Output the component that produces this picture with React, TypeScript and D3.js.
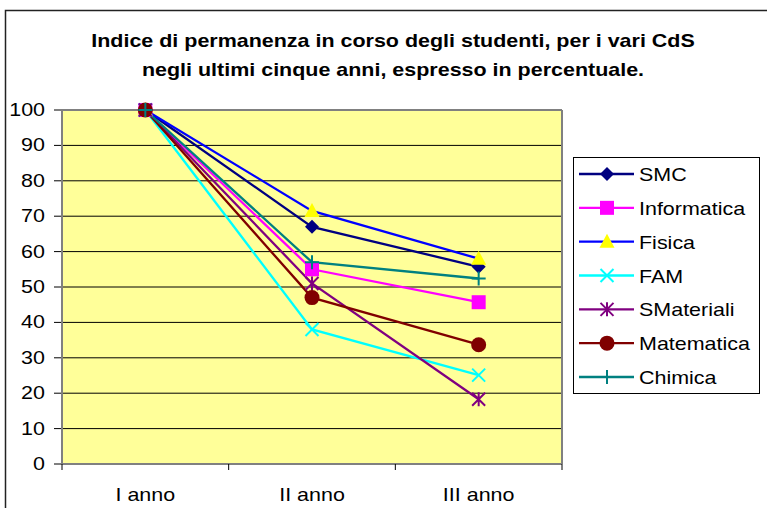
import React from "react";
import * as d3 from "d3";

const categories = ["I anno", "II anno", "III anno"];
const seriesNames = ["SMC", "Informatica", "Fisica", "FAM", "SMateriali", "Matematica", "Chimica"];
const smc = [100, 67, 55.7];
const informatica = [100, 55, 45.7];
const fisica = [100, 71.5, 58];
const fam = [100, 38, 25.1];
const smateriali = [100, 51, 18.3];
const matematica = [100, 47, 33.7];
const chimica = [100, 57, 52.4];
const yTicks = [0, 10, 20, 30, 40, 50, 60, 70, 80, 90, 100];
const titleLines = [
  "Indice di permanenza in corso degli studenti, per i vari CdS",
  "negli ultimi cinque anni, espresso in percentuale.",
];

const seriesValues = [smc, informatica, fisica, fam, smateriali, matematica, chimica];
const lineColors = ["#000080", "#FF00FF", "#0000FF", "#00FFFF", "#800080", "#800000", "#008080"];
const markerFill = ["#000080", "#FF00FF", "#FFFF00", "none", "none", "#800000", "none"];
const markerTypes = ["diamond", "square", "triangle", "x", "asterisk", "circle", "plus"];

const SX = 1.13;

function T({ x, y, anchor, size, bold, children }: any) {
  return (
    <text
      transform={`translate(${x},${y}) scale(${SX},1)`}
      textAnchor={anchor || "start"}
      fontSize={size}
      fontWeight={bold ? "bold" : "normal"}
      fill="#000"
    >
      {children}
    </text>
  );
}

function Marker({ type, x, y, color, fill }: { type: string; x: number; y: number; color: string; fill: string }) {
  const s = 6.5;
  switch (type) {
    case "diamond":
      return <path d={`M${x},${y - 7}L${x + 7},${y}L${x},${y + 7}L${x - 7},${y}Z`} fill={fill} />;
    case "square":
      return <rect x={x - 7} y={y - 7} width={14} height={14} fill={fill} />;
    case "triangle":
      return <path d={`M${x},${y - 8}L${x + 7.5},${y + 6}L${x - 7.5},${y + 6}Z`} fill={fill} />;
    case "x":
      return (
        <path d={`M${x - s},${y - s}L${x + s},${y + s}M${x - s},${y + s}L${x + s},${y - s}`} stroke={color} strokeWidth={2} />
      );
    case "asterisk":
      return (
        <path
          d={`M${x - s},${y - s}L${x + s},${y + s}M${x - s},${y + s}L${x + s},${y - s}M${x},${y - 7}L${x},${y + 7}`}
          stroke={color}
          strokeWidth={2}
        />
      );
    case "circle":
      return <circle cx={x} cy={y} r={7.5} fill={fill} />;
    case "plus":
      return <path d={`M${x - 7},${y}L${x + 7},${y}M${x},${y - 7}L${x},${y + 7}`} stroke={color} strokeWidth={2} />;
    default:
      return null;
  }
}

export default function App() {
  const W = 767;
  const H = 508;
  const left = 62;
  const right = 562;
  const top = 110;
  const bottom = 464;
  const x = d3.scaleBand<string>().domain(categories).range([left, right]);
  const y = d3.scaleLinear().domain([0, 100]).range([bottom, top]);
  const cx = (c: string) => (x(c) as number) + x.bandwidth() / 2;
  const line = d3
    .line<number>()
    .x((_, i) => cx(categories[i]))
    .y((d) => y(d));
  const font = "Liberation Sans, Arial, sans-serif";
  const legendY = d3.scaleLinear().domain([0, 6]).range([174, 377]);

  return (
    <svg width={W} height={H} style={{ position: "absolute", left: 0, top: 0, background: "#fff" }} fontFamily={font}>
      <rect x={0} y={0} width={W} height={H} fill="#fff" />
      <path d={`M5.5,${H}L5.5,10.5L${W},10.5`} fill="none" stroke="#222" strokeWidth={1.5} />
      {titleLines.map((t, i) => (
        <T key={i} x={393} y={47 + i * 29} anchor="middle" size={19} bold>
          {t}
        </T>
      ))}
      <rect x={left} y={top} width={right - left} height={bottom - top} fill="#FFFF99" />
      {yTicks.map((t) => (
        <g key={t}>
          {t > 0 && t < 100 && <line x1={left} x2={right} y1={y(t)} y2={y(t)} stroke="#000" strokeWidth={1} />}
          <line x1={left - 8} x2={left} y1={y(t)} y2={y(t)} stroke="#000" strokeWidth={1} />
          <T x={45} y={y(t) + 6} anchor="end" size={19}>
            {t}
          </T>
        </g>
      ))}
      <line x1={left} x2={right} y1={top} y2={top} stroke="#808080" strokeWidth={2} />
      <line x1={right} x2={right} y1={top} y2={bottom} stroke="#808080" strokeWidth={2} />
      <line x1={left} x2={left} y1={top} y2={bottom + 1} stroke="#808080" strokeWidth={2} />
      <line x1={left} x2={right} y1={bottom} y2={bottom} stroke="#808080" strokeWidth={2} />
      {categories.map((c, i) => (
        <g key={c}>
          <line x1={(x(c) as number) + x.bandwidth()} x2={(x(c) as number) + x.bandwidth()} y1={bottom} y2={bottom + 6} stroke="#000" />
          {i === 0 && <line x1={left} x2={left} y1={bottom} y2={bottom + 6} stroke="#000" />}
          <T x={cx(c)} y={501} anchor="middle" size={19}>
            {c}
          </T>
        </g>
      ))}
      {seriesValues.map((vals, si) => (
        <path key={si} d={line(vals) as string} fill="none" stroke={lineColors[si]} strokeWidth={2.3} />
      ))}
      {seriesValues.map((vals, si) =>
        vals.map((v, i) => (
          <Marker
            key={`${si}-${i}`}
            type={markerTypes[si]}
            x={cx(categories[i])}
            y={y(v)}
            color={lineColors[si]}
            fill={markerFill[si]}
          />
        ))
      )}
      <rect x={573.5} y={157.5} width={186} height={236} fill="#fff" stroke="#000" strokeWidth={1} />
      {seriesNames.map((n, i) => (
        <g key={n}>
          <line x1={579} x2={634} y1={legendY(i)} y2={legendY(i)} stroke={lineColors[i]} strokeWidth={2.3} />
          <Marker type={markerTypes[i]} x={607} y={legendY(i)} color={lineColors[i]} fill={markerFill[i]} />
          <T x={639} y={legendY(i) + 7} size={19}>
            {n}
          </T>
        </g>
      ))}
    </svg>
  );
}
